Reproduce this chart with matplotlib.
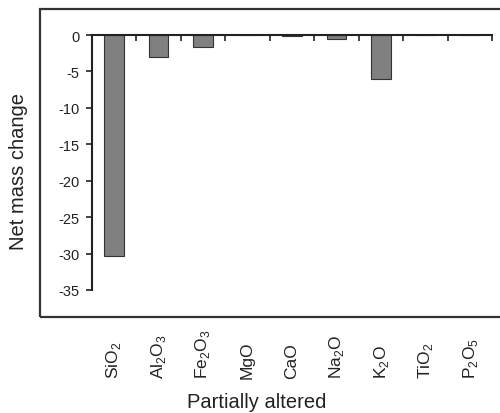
import matplotlib
matplotlib.use("Agg")
import matplotlib.pyplot as plt
from matplotlib.transforms import blended_transform_factory
from matplotlib.patches import Rectangle

plt.rcParams['font.family'] = ['Liberation Sans', 'DejaVu Sans']

categories = [r'SiO$_2$', r'Al$_2$O$_3$', r'Fe$_2$O$_3$', 'MgO', 'CaO',
              r'Na$_2$O', r'K$_2$O', r'TiO$_2$', r'P$_2$O$_5$']
values = [-30.4, -3.0, -1.7, -0.05, -0.1, -0.6, -6.0, 0.0, -0.05]
yticks = [0, -5, -10, -15, -20, -25, -30, -35]
xlabel = 'Partially altered'
ylabel = 'Net mass change'

W, H = 500, 414
fig = plt.figure(figsize=(W / 100, H / 100), dpi=100)
plt.rcParams['mathtext.fontset'] = 'custom'
plt.rcParams['mathtext.rm'] = 'Liberation Sans'

# outer frame
fig.patches.append(Rectangle((40 / W, 1 - 317.5 / H), 1.0, (317.5 - 10) / H,
                             transform=fig.transFigure, fill=False,
                             edgecolor='#333333', linewidth=1.6))

ax = fig.add_axes([91.7 / W, 1 - 291 / H, (492.3 - 91.7) / W, (291 - 36) / H])
x = list(range(1, len(categories) + 1))
ax.bar(x, values, width=0.43, color='#808080', edgecolor='#333333', linewidth=0.8, zorder=2)

ax.set_xlim(0.5, len(categories) + 0.5)
ax.set_ylim(-35, 0)
ax.set_yticks(yticks)
ax.set_yticklabels([str(v) for v in yticks], fontsize=10.5)
ax.tick_params(axis='y', direction='out', length=4, width=1.2, pad=5, colors='#222222')
ax.xaxis.set_ticks_position('top')
ax.set_xticks([i + 0.5 for i in range(0, len(categories) + 1)])
ax.set_xticklabels([])
ax.tick_params(axis='x', direction='in', length=4, width=1.2, colors='#222222')

for s in ['right', 'bottom']:
    ax.spines[s].set_visible(False)
for s in ['left', 'top']:
    ax.spines[s].set_linewidth(1.5)
    ax.spines[s].set_color('#222222')
ax.spines['top'].set_zorder(3)

trans = blended_transform_factory(ax.transData, fig.transFigure)
for xi, lab in zip(x, categories):
    ax.text(xi, 1 - 379 / H, lab, rotation=90, ha='center', va='bottom',
            fontsize=12.5, transform=trans, color='#222222')

fig.text(256.5 / W, 1 - 408 / H, xlabel, ha='center', va='baseline', fontsize=14.5, color='#222222')
fig.text(18.5 / W, 1 - 171.5 / H, ylabel, ha='center', va='center', rotation=90,
         fontsize=14.5, color='#222222')

fig.savefig('out.png', dpi=100)
